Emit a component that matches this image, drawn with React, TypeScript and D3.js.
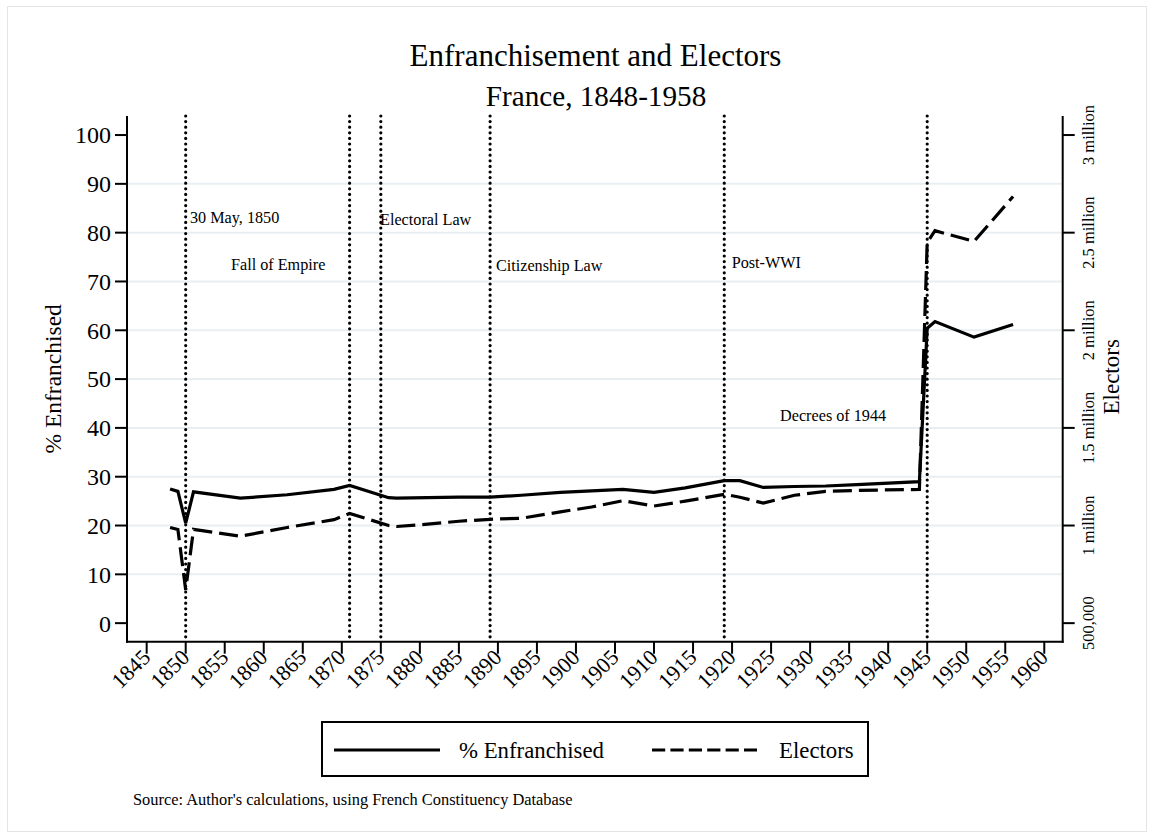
import React from "react";
import * as d3 from "d3";

// ---- data ----
const years = [1848, 1849, 1850, 1851, 1857, 1863, 1869, 1871, 1876, 1877, 1881, 1885, 1889, 1893, 1898, 1902, 1906, 1910, 1914, 1919, 1921, 1924, 1928, 1932, 1936, 1944, 1945, 1946, 1951, 1956];
const pctEnfranchised = [27.5, 27.0, 20.5, 26.9, 25.6, 26.3, 27.4, 28.2, 25.7, 25.6, 25.7, 25.8, 25.8, 26.2, 26.8, 27.1, 27.4, 26.8, 27.7, 29.2, 29.2, 27.8, 28.0, 28.1, 28.4, 29.0, 60.4, 61.8, 58.6, 61.2];
const electors = [990000, 980000, 670000, 980000, 945000, 990000, 1030000, 1062000, 1000000, 995000, 1007000, 1022000, 1032000, 1037000, 1070000, 1095000, 1127000, 1100000, 1125000, 1160000, 1145000, 1115000, 1155000, 1175000, 1180000, 1185000, 2450000, 2510000, 2455000, 2685000];

const eventYears = [1850, 1871, 1875, 1889, 1919, 1945];
const annoLabels = ["30 May, 1850", "Fall of Empire", "Electoral Law", "Citizenship Law", "Post-WWI", "Decrees of 1944"];
const annoYears = [1850.55, 1855.8, 1874.9, 1889.75, 1919.95, 1926.15];
const annoValues = [82.0, 72.4, 81.6, 72.2, 72.8, 41.4];

const xTicks = d3.range(1845, 1961, 5);
const leftTicks = d3.range(0, 101, 10);
const gridTicks = d3.range(10, 91, 10);
const rightTicks = [500000, 1000000, 1500000, 2000000, 2500000, 3000000];
const rightTickLabels = ["500,000", "1 million", "1.5 million", "2 million", "2.5 million", "3 million"];

const FONT = "'Liberation Serif', 'Times New Roman', serif";

export default function App() {
  const W = 1154, H = 839;
  const plotL = 127, plotR = 1062.7, plotT = 116, plotB = 641.7;

  const x = d3.scaleLinear().domain([1842.48, 1962.36]).range([plotL, plotR]);
  const y = d3.scaleLinear().domain([-3.8, 103.9]).range([plotB, plotT]);
  const yR = d3.scaleLinear().domain([500000 + 25000 * -3.8, 500000 + 25000 * 103.9]).range([plotB, plotT]);

  const idx = d3.range(years.length);
  const solidPath = d3.line<number>().x(i => x(years[i])).y(i => y(pctEnfranchised[i]))(idx) || "";
  const dashPath = d3.line<number>().x(i => x(years[i])).y(i => yR(electors[i]))(idx) || "";

  const midY = (plotT + plotB) / 2;

  return (
    <svg width={W} height={H} style={{ position: "absolute", left: 0, top: 0, background: "#fff" }} fontFamily={FONT}>
      <rect x={0} y={0} width={W} height={H} fill="#fff" />
      <rect x={7.5} y={6.5} width={1139} height={825} fill="none" stroke="#e4e4e4" strokeWidth={1} />

      {/* titles */}
      <text x={595.5} y={66} textAnchor="middle" fontSize={31} fill="#000">Enfranchisement and Electors</text>
      <text x={596} y={106} textAnchor="middle" fontSize={29.2} fill="#000">France, 1848-1958</text>

      {/* grid */}
      {gridTicks.map(t => (
        <line key={"g" + t} x1={plotL} x2={plotR} y1={y(t)} y2={y(t)} stroke="#e8eff2" strokeWidth={2} />
      ))}

      {/* event lines */}
      {eventYears.map(e => (
        <line key={"e" + e} x1={x(e)} x2={x(e)} y1={plotT} y2={plotB} stroke="#000" strokeWidth={3.2}
          strokeDasharray="0 5.6" strokeLinecap="round" />
      ))}

      {/* annotations */}
      {annoLabels.map((l, i) => (
        <text key={"a" + i} x={x(annoYears[i])} y={y(annoValues[i])} fontSize={16.2} fill="#000">{l}</text>
      ))}

      {/* series */}
      <path d={solidPath} fill="none" stroke="#000" strokeWidth={3.2} />
      <path d={dashPath} fill="none" stroke="#000" strokeWidth={3.2} strokeDasharray="19 7" />

      {/* left axis */}
      <line x1={plotL} x2={plotL} y1={plotT} y2={plotB + 1} stroke="#000" strokeWidth={2} />
      {leftTicks.map(t => (
        <g key={"l" + t}>
          <line x1={plotL - 12} x2={plotL} y1={y(t)} y2={y(t)} stroke="#000" strokeWidth={2} />
          <text x={plotL - 16} y={y(t)} dy="0.35em" textAnchor="end" fontSize={24} fill="#000">{t}</text>
        </g>
      ))}
      <text transform={`translate(61,${midY}) rotate(-90)`} textAnchor="middle" fontSize={23.5} fill="#000">% Enfranchised</text>

      {/* right axis */}
      <line x1={plotR} x2={plotR} y1={plotT} y2={plotB + 1} stroke="#000" strokeWidth={2} />
      {rightTicks.map((t, i) => (
        <g key={"r" + t}>
          <line x1={plotR} x2={plotR + 12} y1={yR(t)} y2={yR(t)} stroke="#000" strokeWidth={2} />
          <text transform={`translate(1094,${yR(t)}) rotate(-90)`} textAnchor="middle" fontSize={16.5} fill="#000">{rightTickLabels[i]}</text>
        </g>
      ))}
      <text transform={`translate(1119,${midY - 2}) rotate(-90)`} textAnchor="middle" fontSize={23} fill="#000">Electors</text>

      {/* bottom axis */}
      <line x1={plotL - 1} x2={plotR + 1} y1={plotB} y2={plotB} stroke="#000" strokeWidth={2} />
      {xTicks.map(t => (
        <g key={"x" + t}>
          <line x1={x(t)} x2={x(t)} y1={plotB} y2={plotB + 12} stroke="#000" strokeWidth={2} />
          <text transform={`translate(${x(t) + 5},${plotB + 17}) rotate(-45)`} textAnchor="end" fontSize={22} fill="#000">{t}</text>
        </g>
      ))}

      {/* legend */}
      <rect x={322} y={722} width={546} height={54} fill="#fff" stroke="#000" strokeWidth={2} />
      <line x1={334} x2={440} y1={750} y2={750} stroke="#000" strokeWidth={3} />
      <text x={459} y={758} fontSize={22.8} fill="#000">% Enfranchised</text>
      <line x1={652} x2={757} y1={750} y2={750} stroke="#000" strokeWidth={3} strokeDasharray="13.2 5.2" />
      <text x={779} y={758} fontSize={22.8} fill="#000">Electors</text>

      {/* source */}
      <text x={133} y={805} fontSize={16.4} fill="#000">Source: Author's calculations, using French Constituency Database</text>
    </svg>
  );
}
